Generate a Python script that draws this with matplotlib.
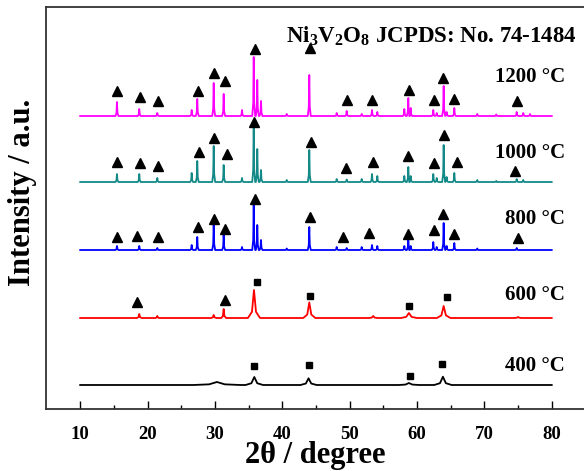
import matplotlib
matplotlib.use("Agg")
import matplotlib.pyplot as plt

plt.rcParams['font.family'] = ['Liberation Serif', 'DejaVu Serif']
plt.rcParams['font.weight'] = 'bold'
plt.rcParams['mathtext.fontset'] = 'custom'
plt.rcParams['mathtext.rm'] = 'Liberation Serif:bold'
plt.rcParams['mathtext.it'] = 'Liberation Serif:bold'
plt.rcParams['mathtext.bf'] = 'Liberation Serif:bold'
plt.rcParams['mathtext.default'] = 'rm'

# ---------------- data ----------------
temps = ["400 °C", "600 °C", "800 °C", "1000 °C", "1200 °C"]
colors = ["#000000", "#FF0000", "#0000FF", "#138A87", "#FF00FF"]
offsets = [24, 91, 159, 227, 293]
x_start, x_end = 10, 80

# 1200 °C
pk1200_pos = [15.46, 18.77, 21.45, 26.55, 27.38, 29.82, 31.30, 34.02, 35.76, 36.29, 36.84, 40.66,
              44.01, 48.08, 49.56, 51.79, 53.32, 54.11, 58.12, 58.71, 59.07, 62.42, 62.93, 63.96,
              64.41, 65.54, 68.95, 71.77, 74.80, 75.78, 76.78]
pk1200_h = [14, 7, 3, 6, 17, 33, 22, 6, 59, 36, 15, 2,
            41, 3, 5, 2, 6, 4, 7, 18, 8, 6, 3, 30,
            4, 8, 2, 1.5, 4, 3, 2]
# 1000 °C
pk1000_pos = [15.46, 18.77, 21.45, 26.55, 27.38, 29.82, 31.30, 34.02, 35.76, 36.29, 36.84, 40.66,
              44.01, 48.08, 49.56, 51.79, 53.32, 54.11, 58.12, 58.71, 59.07, 62.42, 62.93, 63.96,
              64.41, 65.54, 68.95, 71.77, 74.80, 75.78]
pk1000_h = [8, 8, 4, 9, 21, 36, 17, 4, 57, 33, 12, 2,
            32, 3, 2.5, 3, 8, 6, 6, 15, 6, 8, 4, 37,
            5, 9, 2, 1, 3, 2]
# 800 °C
pk800_pos = [15.46, 18.77, 21.45, 26.55, 27.38, 29.82, 31.30, 34.02, 35.76, 36.29, 36.84, 40.66,
             44.01, 48.08, 49.56, 51.79, 53.32, 54.11, 58.12, 58.71, 59.07, 62.42, 62.93, 63.96,
             64.41, 65.54, 68.95, 74.80]
pk800_h = [4, 4, 2, 5, 13, 27, 15, 3, 45, 25, 10, 1.5,
           23, 3, 2, 3, 5, 4, 4, 12, 4, 8, 3, 27,
           4, 7, 1.5, 2]
# 600 °C
pk600_pos = [18.77, 21.45, 29.82, 31.30, 35.80, 44.01, 53.50, 58.80, 63.96, 75.0]
pk600_h = [4, 2, 3, 9, 28, 15.6, 2, 5, 12, 1]
pk600_w = [0.35, 0.3, 0.4, 0.35, 0.9, 0.9, 0.6, 1.2, 1.0, 0.6]
# 400 °C
pk400_pos = [30.3, 35.85, 43.90, 58.80, 63.85]
pk400_h = [3, 8, 6.7, 2, 8.3]
pk400_w = [3.5, 1.3, 1.2, 1.5, 1.3]

# markers: triangles (Ni3V2O8) and squares
tri1200_x = [15.46, 18.88, 21.5, 27.44, 29.82, 31.45, 35.9, 44.12, 49.65, 53.28, 58.86, 62.57, 63.9, 65.45, 74.8]
tri1200_y = [318, 312.3, 308, 318, 336.3, 328, 359.7, 361.3, 309, 309, 319, 309, 331.3, 310, 308]
tri1000_x = [15.46, 18.88, 21.5, 27.6, 29.9, 31.8, 35.76, 44.2, 49.5, 53.4, 58.7, 62.5, 64.0, 65.9, 74.6]
tri1000_y = [246.7, 245.7, 243, 257.3, 270.7, 254.7, 287.3, 267.3, 240.7, 247.3, 253, 245.7, 274, 247.3, 238.3]
tri800_x = [15.46, 18.5, 21.5, 27.53, 29.82, 31.54, 35.9, 44.12, 49.06, 52.92, 58.7, 62.52, 63.9, 65.54, 75.05]
tri800_y = [172.3, 173, 171.7, 181.7, 189.7, 180, 209.7, 191.7, 172.3, 175.7, 175, 179, 195, 175, 170.7]
tri600_x = [18.43, 31.5]
tri600_y = [107.3, 109]
sq600_x = [36.2, 44.12, 58.8, 64.4]
sq600_y = [127.3, 113.3, 103.3, 111.7]
sq400_x = [35.85, 43.97, 58.96, 63.71]
sq400_y = [43, 44, 33, 45]

label_y = [43, 114, 189.7, 256.3, 331.7]
title_text = "Ni$_3$V$_2$O$_8$ JCPDS: No. 74-1484"
xticks = [10, 20, 30, 40, 50, 60, 70, 80]
xticks_minor = [15, 25, 35, 45, 55, 65, 75]


def build_trace(pos, hts, widths, base):
    xs = [x_start]
    ys = [base]
    for p, h, w in sorted(zip(pos, hts, widths)):
        xs += [p - w, p - w / 3.0, p, p + w / 3.0, p + w]
        ys += [base, base + 0.22 * h, base + h, base + 0.22 * h, base]
    xs.append(x_end)
    ys.append(base)
    return xs, ys


sharp = 0.22
traces = [
    (pk400_pos, pk400_h, pk400_w),
    (pk600_pos, pk600_h, pk600_w),
    (pk800_pos, pk800_h, [sharp] * len(pk800_pos)),
    (pk1000_pos, pk1000_h, [sharp] * len(pk1000_pos)),
    (pk1200_pos, pk1200_h, [sharp] * len(pk1200_pos)),
]

# ---------------- figure ----------------
W, H = 584, 471
fig = plt.figure(figsize=(W / 100, H / 100), dpi=100)
x_lo, x_hi = 4.85, 88.0
ppu = 6.736
ax_left_px, ax_bot_px, ax_top_px = 45.5, 409, 7.3
ax = fig.add_axes([ax_left_px / W, (H - ax_bot_px) / H,
                   (x_hi - x_lo) * ppu / W, (ax_bot_px - ax_top_px) / H])
ax.set_xlim(x_lo, x_hi)
ax.set_ylim(0, ax_bot_px - ax_top_px)

for (pos, hts, ws), base, col in zip(traces, offsets, colors):
    xs, ys = build_trace(pos, hts, ws, base)
    ax.plot(xs, ys, color=col, lw=1.3, solid_joinstyle='round')

tri_x = tri1200_x + tri1000_x + tri800_x + tri600_x
tri_y = tri1200_y + tri1000_y + tri800_y + tri600_y
ax.plot(tri_x, tri_y, linestyle='none', marker='^', color='black', markersize=7.5)
ax.plot(sq600_x + sq400_x, sq600_y + sq400_y, linestyle='none', marker='s',
        color='black', markersize=5)

for t, ly in zip(temps, label_y):
    ax.text(81.97, ly, t, ha='right', va='center', fontsize=15, fontweight='bold')

ax.text(40.6, 372.3, title_text, ha='left', va='center', fontsize=16.5, fontweight='bold')

ax.set_xticks(xticks)
ax.set_xticks(xticks_minor, minor=True)
ax.tick_params(axis='x', which='major', direction='in', length=6, width=1.0,
               labelsize=13.5, pad=12)
ax.tick_params(axis='x', which='minor', direction='in', length=3, width=1.0)
ax.set_yticks([])
for lab in ax.get_xticklabels():
    lab.set_fontweight('bold')

ax.spines['right'].set_visible(False)
for s in ['left', 'top', 'bottom']:
    ax.spines[s].set_linewidth(1.3)
    ax.spines[s].set_color('#333333')

fig.text(315.6 / W, 1 - 456 / H, "2θ / degree", ha='center', va='center',
         fontsize=22, fontweight='bold')
fig.text(23 / W, 1 - 192 / H, "Intensity / a.u.", rotation=90, ha='center', va='center',
         fontsize=22, fontweight='bold')

fig.savefig("out.png", dpi=100)
